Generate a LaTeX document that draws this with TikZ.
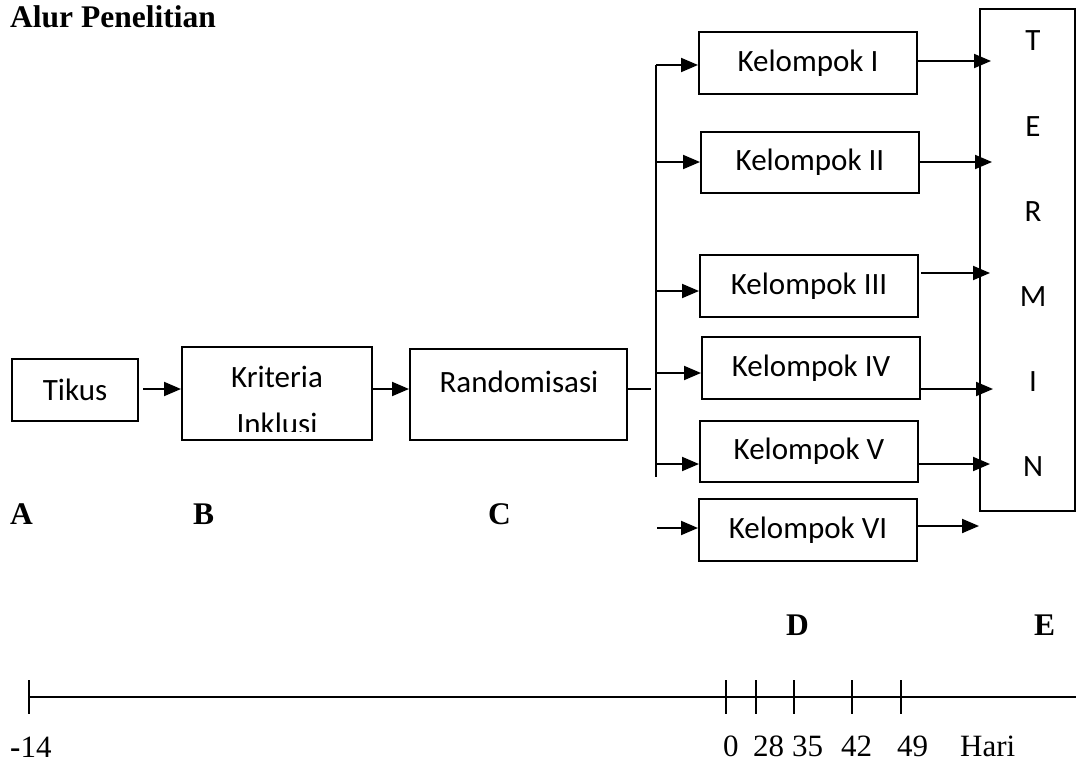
\documentclass[tikz,border=0pt]{standalone}
\usepackage{fontspec}
\setmainfont{Liberation Serif}
\newfontfamily\calfont{Carlito}
\usetikzlibrary{arrows.meta}
\begin{document}
\begin{tikzpicture}[x=1pt,y=-1pt,
  box/.style={draw,line width=2pt,inner sep=0pt,minimum width=218pt,minimum height=62pt,font=\calfont\fontsize{31}{37}\selectfont},
  cal/.style={inner sep=0pt,font=\calfont\fontsize{31}{37}\selectfont},
  tms/.style={inner sep=0pt,anchor=base west,font=\fontsize{31}{37}\selectfont},
  tmsb/.style={inner sep=0pt,anchor=base west,font=\bfseries\fontsize{31.5}{37}\selectfont},
  conn/.style={line width=2pt,-{Triangle[length=17pt,width=14pt]}},
  plain/.style={line width=2pt},
  tick/.style={line width=1.4pt}]
\useasboundingbox (0,0) rectangle (1076,765);

% title
\node[tmsb] (title) at (10,28) {Alur Penelitian};

% left chain
\node[box,minimum width=126pt,minimum height=62pt] (tikus) at (75,390) {Tikus};
\node[box,minimum width=190pt,minimum height=93pt] (krit) at (277,393.5) {};
\node[cal,anchor=base] (kritA) at (277,387) {Kriteria};
\begin{scope}
  \clip (182,347) rectangle (372,431);
  \node[cal,anchor=base] (kritB) at (277,434) {Inklusi};
\end{scope}
\node[box,minimum width=217pt,minimum height=91pt] (rand) at (518.5,394.5) {};
\node[cal,anchor=base] (randT) at (519,392) {Randomisasi};

\draw[conn] (tikus.east |- 0,389) ++(4,0) coordinate (a1) -- (a1 -| krit.west);
\draw[conn] (krit.east |- 0,389) coordinate (a2) -- (a2 -| rand.west);

% trunk
\coordinate (r1) at (651,389);
\draw[plain] (rand.east |- r1) -- (r1);
\coordinate (ttop) at (656,65);
\coordinate (tbot) at (656,477);
\draw[plain] (ttop) -- (tbot);

% groups
\node[box] (k1) at (808,63) {Kelompok I};
\node[box,minimum height=61pt] (k2) at (810,162.5) {Kelompok II};
\node[box] (k3) at (809,286) {Kelompok III};
\node[box] (k4) at (811,368) {Kelompok IV};
\node[box,minimum height=61pt] (k5) at (809,451.5) {Kelompok V};
\node[box] (k6) at (808,530) {Kelompok VI};

\coordinate (i1) at (656,65);
\coordinate (i2) at (656,162);
\coordinate (i3) at (656,291);
\coordinate (i4) at (656,373);
\coordinate (i5) at (656,464);
\coordinate (i6) at (657,528);
\draw[conn] (i1) -- (i1 -| k1.west);
\draw[conn] (i2) -- (i2 -| k2.west);
\draw[conn] (i3) -- (i3 -| k3.west);
\draw[conn] (i4) -- (i4 -| k4.west);
\draw[conn] (i5) -- (i5 -| k5.west);
\draw[conn] (i6) -- (i6 -| k6.west);

% terminal box
\node[draw,line width=2pt,inner sep=0pt,minimum width=95pt,minimum height=502pt] (term) at (1027.5,260) {};
\node[cal] (tT) at (1033,41) {T};
\node[cal] (tE) at (1033,127) {E};
\node[cal] (tR) at (1033,212) {R};
\node[cal] (tM) at (1033,297) {M};
\node[cal] (tI) at (1033,382) {I};
\node[cal] (tN) at (1033,467) {N};

\coordinate (o1) at (991,61);
\coordinate (o2) at (992,162);
\coordinate (o3) at (990,273);
\coordinate (o4) at (993,389);
\coordinate (o5) at (990,464);
\coordinate (o6) at (979,526);
\draw[conn] (k1.east |- o1) -- (o1);
\draw[conn] (k2.east |- o2) -- (o2);
\draw[conn] ([xshift=2pt]k3.east |- o3) -- (o3);
\draw[conn] (k4.east |- o4) -- (o4);
\draw[conn] (k5.east |- o5) -- (o5);
\draw[conn] (k6.east |- o6) -- (o6);

% stage letters
\node[tmsb] (lA) at (10,524) {A};
\node[tmsb] (lB) at (193,524) {B};
\node[tmsb] (lC) at (488,524) {C};
\node[tmsb] (lD) at (786,635) {D};
\node[tmsb] (lE) at (1034,635) {E};

% timeline
\coordinate (tl0) at (29,697);
\coordinate (tl1) at (1076,697);
\draw[line width=1.8pt] (tl0) -- (tl1);
\foreach \xx in {29,726,756,794,852,901}{
  \draw[tick] (\xx,680) -- (\xx,714);
}
\node[tms] (n14) at (10,757) {\textbf{-}14};
\node[tms] (n0) at (723,756) {0};
\node[tms] (n28) at (753,756) {28};
\node[tms] (n35) at (792,756) {35};
\node[tms] (n42) at (841,756) {42};
\node[tms] (n49) at (897,756) {49};
\node[tms] (nH) at (960,756) {Hari};
\end{tikzpicture}
\end{document}
